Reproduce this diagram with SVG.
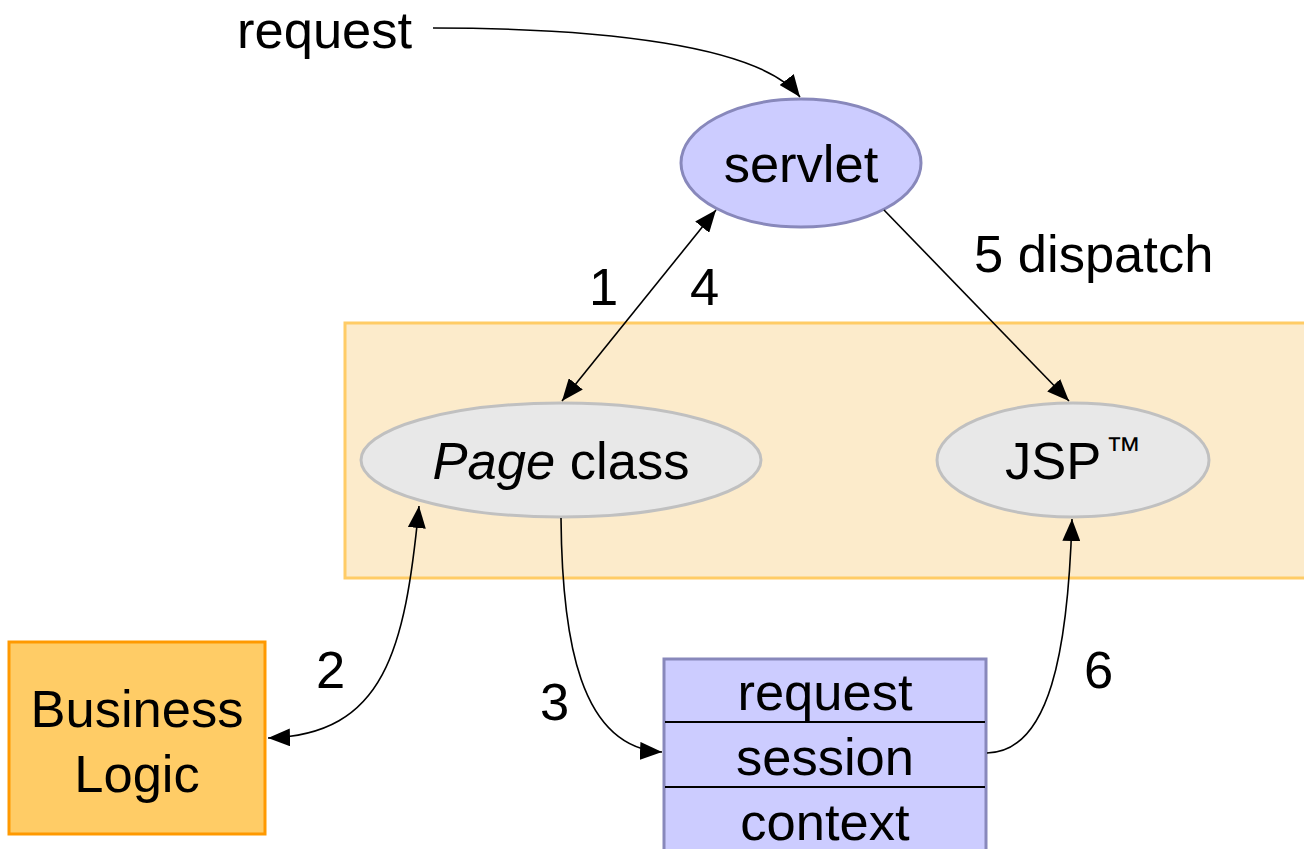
<svg xmlns="http://www.w3.org/2000/svg" width="1304" height="849" viewBox="0 0 1304 849">
<style>
text{font-family:"Liberation Sans",Arial,sans-serif;font-size:52.5px;fill:#000}
.c{stroke:#000;stroke-width:1.6;fill:none}
</style>
<defs>
<marker id="ah" viewBox="0 0 22 18" refX="22" refY="9" markerWidth="22" markerHeight="18" markerUnits="userSpaceOnUse" orient="auto-start-reverse">
<path d="M0,0 L22,9 L0,18 z" fill="#000"/>
</marker>
</defs>
<rect x="0" y="0" width="1304" height="849" fill="#fff"/>
<g id="container">
<rect x="345" y="323" width="975" height="255" fill="#fcebcb" stroke="#ffcc66" stroke-width="3"/>
</g>
<g id="servlet">
<ellipse cx="801" cy="163" rx="120" ry="64" fill="#ccccff" stroke="#8888bb" stroke-width="3"/>
<text x="801" y="182" text-anchor="middle">servlet</text>
</g>
<g id="page-class">
<ellipse cx="561" cy="460" rx="200" ry="57" fill="#e8e8e8" stroke="#c0c0c0" stroke-width="3"/>
<text x="561" y="479" text-anchor="middle"><tspan font-style="italic">Page</tspan> class</text>
</g>
<g id="jsp">
<ellipse cx="1073" cy="460" rx="136" ry="57" fill="#e8e8e8" stroke="#c0c0c0" stroke-width="3"/>
<text x="1005" y="479">JSP<tspan font-size="36" dx="4" dy="-17">™</tspan></text>
</g>
<g id="business-logic">
<rect x="9" y="642" width="256" height="192" fill="#ffcc66" stroke="#ff9900" stroke-width="3"/>
<text x="137" y="727" text-anchor="middle">Business</text>
<text x="137" y="792" text-anchor="middle">Logic</text>
</g>
<g id="scope-stack">
<rect x="664" y="659" width="322" height="200" fill="#ccccff" stroke="#8888bb" stroke-width="3"/>
<line x1="665" y1="722" x2="985" y2="722" stroke="#000" stroke-width="2"/>
<line x1="665" y1="787" x2="985" y2="787" stroke="#000" stroke-width="2"/>
<text x="825" y="710" text-anchor="middle">request</text>
<text x="825" y="775" text-anchor="middle">session</text>
<text x="825" y="840" text-anchor="middle">context</text>
</g>
<g id="connectors">
<path class="c" d="M433,28 C600,28 760,45 800,97" marker-end="url(#ah)"/>
<path class="c" d="M716,210 L562,401" marker-start="url(#ah)" marker-end="url(#ah)"/>
<path class="c" d="M884,210 L1069,401" marker-end="url(#ah)"/>
<path class="c" d="M419,506 C405,650 385,735 268,738" marker-start="url(#ah)" marker-end="url(#ah)"/>
<path class="c" d="M561,518 C562,640 580,748 662,752" marker-end="url(#ah)"/>
<path class="c" d="M987,753 C1050,752 1068,650 1072,519" marker-end="url(#ah)"/>
</g>
<g id="labels">
<text x="237" y="48">request</text>
<text x="974" y="272">5 dispatch</text>
<text x="589" y="305">1</text>
<text x="690" y="305">4</text>
<text x="316" y="688">2</text>
<text x="540" y="720">3</text>
<text x="1084" y="688">6</text>
</g>
</svg>
